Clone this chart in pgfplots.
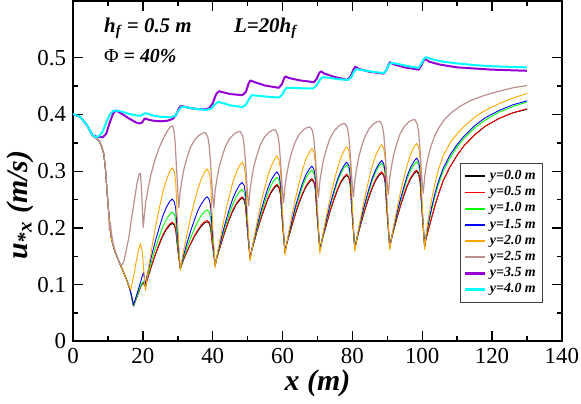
\documentclass[border=0pt]{standalone}
\usepackage{fontspec}
\setmainfont{Liberation Serif}
\usepackage{pgfplots}
\usepackage{pgfplotstable}
\pgfplotsset{compat=1.18}

\definecolor{grblack}{RGB}{0,0,0}
\definecolor{grred}{RGB}{255,0,0}
\definecolor{grgreen}{RGB}{0,255,0}
\definecolor{grblue}{RGB}{0,0,255}
\definecolor{grorange}{RGB}{255,165,0}
\definecolor{grbrown}{RGB}{188,143,143}
\definecolor{grviolet}{RGB}{148,0,211}
\definecolor{grcyan}{RGB}{0,255,255}

% y = 0.0 ... 2.0 m share one x grid
\pgfplotstableread{
x k r g b o
0 0.400 0.400 0.400 0.400 0.400
2 0.396 0.396 0.396 0.396 0.396
4 0.381 0.381 0.381 0.381 0.381
5.5 0.363 0.363 0.363 0.363 0.363
6.5 0.358 0.358 0.358 0.358 0.358
7.5 0.353 0.353 0.353 0.353 0.353
8.2 0.343 0.343 0.343 0.343 0.343
8.8 0.330 0.330 0.330 0.330 0.330
9.3 0.302 0.302 0.302 0.302 0.302
9.8 0.258 0.258 0.258 0.258 0.258
10.3 0.220 0.220 0.220 0.220 0.220
11 0.180 0.180 0.180 0.180 0.180
12 0.158 0.158 0.158 0.158 0.158
13 0.143 0.143 0.143 0.143 0.143
14 0.128 0.128 0.128 0.128 0.128
15 0.114 0.114 0.114 0.114 0.114
16 0.097 0.097 0.097 0.097 0.097
16.5 0.087 0.087 0.087 0.087 0.091
17.3 0.062 0.063 0.063 0.065 0.113
18 0.074 0.074 0.075 0.078 0.138
18.7 0.085 0.086 0.087 0.092 0.160
19.3 0.095 0.096 0.097 0.104 0.172
19.8 0.101 0.102 0.103 0.115 0.160
20.2 0.103 0.104 0.106 0.122 0.128
20.5 0.099 0.100 0.101 0.108 0.103
20.8 0.096 0.097 0.098 0.100 0.090
21.1 0.106 0.107 0.110 0.114 0.109
21.7 0.118 0.119 0.124 0.130 0.133
22.7 0.137 0.138 0.146 0.156 0.170
23.7 0.155 0.156 0.167 0.180 0.205
24.7 0.171 0.173 0.185 0.201 0.235
25.7 0.186 0.188 0.202 0.221 0.263
26.7 0.197 0.199 0.215 0.236 0.284
27.7 0.205 0.207 0.224 0.247 0.300
28.4 0.208 0.210 0.228 0.251 0.306
29.0 0.205 0.207 0.224 0.246 0.299
29.4 0.197 0.199 0.214 0.234 0.281
29.8 0.173 0.174 0.184 0.197 0.226
30.2 0.152 0.153 0.158 0.165 0.179
30.5 0.138 0.138 0.140 0.143 0.147
30.7 0.128 0.128 0.128 0.128 0.125
31.1 0.135 0.135 0.137 0.139 0.141
31.7 0.145 0.146 0.149 0.153 0.161
32.7 0.159 0.160 0.167 0.175 0.191
33.7 0.172 0.173 0.183 0.195 0.220
34.7 0.184 0.186 0.198 0.213 0.245
35.7 0.194 0.196 0.211 0.230 0.268
36.7 0.203 0.205 0.222 0.242 0.286
37.7 0.209 0.211 0.229 0.251 0.299
38.4 0.211 0.213 0.232 0.255 0.304
39.0 0.208 0.210 0.228 0.250 0.297
39.4 0.200 0.202 0.218 0.238 0.280
39.8 0.177 0.178 0.189 0.202 0.227
40.2 0.157 0.158 0.163 0.170 0.182
40.5 0.143 0.143 0.146 0.149 0.151
40.7 0.134 0.134 0.134 0.134 0.130
41.1 0.145 0.145 0.146 0.147 0.147
41.7 0.158 0.159 0.161 0.163 0.167
42.7 0.178 0.179 0.184 0.188 0.199
43.7 0.197 0.198 0.205 0.211 0.229
44.7 0.214 0.216 0.224 0.232 0.255
45.7 0.229 0.231 0.241 0.251 0.279
46.7 0.241 0.243 0.255 0.265 0.297
47.7 0.249 0.251 0.264 0.276 0.310
48.4 0.253 0.255 0.268 0.280 0.316
49.0 0.249 0.251 0.263 0.275 0.309
49.4 0.238 0.240 0.251 0.261 0.292
49.8 0.206 0.207 0.214 0.221 0.239
50.2 0.178 0.179 0.183 0.186 0.194
50.5 0.159 0.159 0.161 0.162 0.162
50.7 0.146 0.146 0.146 0.146 0.141
51.1 0.158 0.158 0.159 0.160 0.158
51.7 0.172 0.173 0.175 0.177 0.178
52.7 0.194 0.195 0.199 0.203 0.210
53.7 0.214 0.215 0.222 0.227 0.240
54.7 0.232 0.234 0.242 0.249 0.266
55.7 0.249 0.251 0.260 0.268 0.290
56.7 0.262 0.264 0.275 0.284 0.308
57.7 0.271 0.273 0.285 0.294 0.321
58.4 0.275 0.277 0.289 0.299 0.327
59.0 0.270 0.272 0.284 0.293 0.320
59.4 0.259 0.261 0.271 0.279 0.303
59.8 0.223 0.224 0.231 0.237 0.250
60.2 0.192 0.193 0.197 0.200 0.205
60.5 0.171 0.171 0.173 0.174 0.173
60.7 0.157 0.157 0.157 0.157 0.152
61.1 0.169 0.169 0.170 0.171 0.169
61.7 0.183 0.184 0.186 0.187 0.190
62.7 0.204 0.205 0.211 0.213 0.222
63.7 0.225 0.226 0.234 0.238 0.252
64.7 0.243 0.245 0.254 0.259 0.278
65.7 0.259 0.261 0.273 0.279 0.302
66.7 0.272 0.274 0.288 0.294 0.321
67.7 0.281 0.283 0.298 0.304 0.334
68.4 0.285 0.287 0.302 0.309 0.340
69.0 0.280 0.282 0.296 0.303 0.333
69.4 0.268 0.270 0.282 0.288 0.314
69.8 0.230 0.231 0.240 0.243 0.259
70.2 0.198 0.199 0.203 0.205 0.211
70.5 0.175 0.175 0.177 0.178 0.177
70.7 0.160 0.160 0.160 0.160 0.155
71.1 0.172 0.172 0.174 0.174 0.172
71.7 0.187 0.188 0.190 0.191 0.193
72.7 0.209 0.210 0.216 0.218 0.225
73.7 0.231 0.232 0.240 0.243 0.255
74.7 0.249 0.251 0.261 0.265 0.281
75.7 0.266 0.268 0.281 0.285 0.305
76.7 0.280 0.282 0.296 0.300 0.324
77.7 0.289 0.291 0.307 0.311 0.337
78.4 0.293 0.295 0.311 0.316 0.343
79.0 0.288 0.290 0.305 0.310 0.336
79.4 0.275 0.277 0.290 0.295 0.317
79.8 0.236 0.237 0.246 0.249 0.262
80.2 0.202 0.203 0.207 0.209 0.214
80.5 0.179 0.179 0.181 0.181 0.180
80.7 0.163 0.163 0.163 0.163 0.158
81.1 0.175 0.175 0.177 0.177 0.175
81.7 0.190 0.191 0.193 0.194 0.196
82.7 0.213 0.214 0.219 0.221 0.228
83.7 0.234 0.235 0.243 0.246 0.258
84.7 0.253 0.255 0.264 0.268 0.285
85.7 0.270 0.272 0.284 0.288 0.309
86.7 0.284 0.286 0.299 0.303 0.328
87.7 0.293 0.295 0.310 0.314 0.341
88.4 0.297 0.299 0.314 0.319 0.347
89.0 0.292 0.294 0.308 0.313 0.340
89.4 0.279 0.281 0.293 0.298 0.321
89.8 0.239 0.240 0.249 0.252 0.265
90.2 0.205 0.206 0.210 0.212 0.217
90.5 0.182 0.182 0.184 0.184 0.183
90.7 0.166 0.166 0.166 0.166 0.161
91.1 0.178 0.178 0.180 0.180 0.178
91.7 0.193 0.194 0.196 0.197 0.199
92.7 0.216 0.217 0.222 0.224 0.231
93.7 0.237 0.238 0.246 0.249 0.261
94.7 0.256 0.258 0.267 0.271 0.287
95.7 0.273 0.275 0.287 0.292 0.311
96.7 0.287 0.289 0.302 0.307 0.330
97.7 0.296 0.298 0.312 0.318 0.343
98.4 0.300 0.302 0.317 0.323 0.349
99.0 0.295 0.297 0.311 0.317 0.342
99.4 0.281 0.283 0.296 0.301 0.323
99.8 0.242 0.243 0.251 0.254 0.267
100.2 0.207 0.208 0.212 0.214 0.218
100.5 0.183 0.183 0.185 0.186 0.184
100.7 0.167 0.167 0.167 0.167 0.162
101 0.178 0.178 0.180 0.182 0.182
101.7 0.195 0.195 0.203 0.206 0.214
102.7 0.218 0.218 0.232 0.236 0.250
103.7 0.240 0.240 0.257 0.262 0.280
104.7 0.260 0.260 0.278 0.283 0.304
106 0.283 0.283 0.300 0.305 0.327
108 0.308 0.308 0.324 0.329 0.350
110 0.328 0.328 0.343 0.347 0.366
112 0.345 0.345 0.358 0.362 0.379
115 0.364 0.364 0.376 0.380 0.395
118 0.379 0.379 0.390 0.394 0.407
122 0.393 0.393 0.404 0.407 0.419
126 0.403 0.403 0.414 0.417 0.429
130 0.409 0.410 0.422 0.424 0.437
}\lowtab

% y = 2.5 m
\pgfplotstableread{
x y
0 0.400
2 0.396
4 0.381
5.5 0.363
6.5 0.358
7.5 0.354
8.2 0.345
8.8 0.332
9.3 0.303
9.8 0.262
10.1 0.235
10.4 0.195
10.7 0.208
11.0 0.190
11.5 0.172
12.3 0.155
13.2 0.140
13.9 0.134
14.5 0.140
15.2 0.160
16.0 0.184
16.7 0.215
17.4 0.242
18.3 0.278
18.9 0.295
19.3 0.296
19.6 0.270
19.9 0.225
20.1 0.201
20.4 0.222
20.8 0.245
21.5 0.270
22.3 0.294
23.3 0.317
24.5 0.339
25.7 0.356
27.0 0.371
28.0 0.379
28.5 0.380
28.9 0.371
29.2 0.354
29.5 0.320
29.9 0.276
30.15 0.248
30.3 0.236
30.7 0.265
31.2 0.285
31.8 0.305
32.6 0.323
33.6 0.342
34.8 0.355
36.0 0.363
37.0 0.367
37.9 0.368
38.6 0.360
39.0 0.344
39.4 0.313
39.8 0.273
40.1 0.247
40.3 0.236
40.7 0.266
41.2 0.286
41.8 0.306
42.6 0.324
43.6 0.343
44.8 0.357
46.0 0.365
47.0 0.369
47.9 0.370
48.6 0.362
49.0 0.346
49.4 0.315
49.8 0.276
50.1 0.250
50.3 0.239
50.7 0.268
51.2 0.289
51.8 0.309
52.6 0.327
53.6 0.346
54.8 0.360
56.0 0.368
57.0 0.372
57.9 0.373
58.6 0.365
59.0 0.350
59.4 0.319
59.8 0.281
60.1 0.255
60.3 0.245
60.7 0.274
61.2 0.294
61.8 0.314
62.6 0.333
63.6 0.351
64.8 0.365
66.0 0.373
67.0 0.377
67.9 0.378
68.6 0.371
69.0 0.356
69.4 0.326
69.8 0.289
70.1 0.264
70.3 0.254
70.7 0.283
71.2 0.302
71.8 0.322
72.6 0.340
73.6 0.358
74.8 0.371
76.0 0.379
77.0 0.383
77.9 0.384
78.6 0.376
79.0 0.361
79.4 0.330
79.8 0.291
80.1 0.265
80.3 0.255
80.7 0.284
81.2 0.304
81.8 0.324
82.6 0.343
83.6 0.361
84.8 0.375
86.0 0.383
87.0 0.387
87.9 0.388
88.6 0.380
89.0 0.365
89.4 0.334
89.8 0.295
90.1 0.269
90.3 0.259
90.7 0.288
91.2 0.308
91.8 0.328
92.6 0.346
93.6 0.365
94.8 0.378
96.0 0.386
97.0 0.390
97.9 0.391
98.6 0.383
99.0 0.368
99.4 0.336
99.8 0.297
100.1 0.271
100.3 0.261
100.7 0.290
101.2 0.310
101.8 0.328
102.6 0.346
103.6 0.362
104.8 0.377
106.5 0.392
108.5 0.404
111 0.415
114 0.425
118 0.434
122 0.441
126 0.447
130 0.451
}\browntab

% y = 3.5 m
\pgfplotstableread{
x y
0 0.400
2 0.396
4 0.381
5.5 0.364
7 0.360
8.5 0.360
9.5 0.366
10.5 0.386
11.5 0.402
12.3 0.407
14 0.401
16 0.393
18 0.386
19 0.384
19.8 0.386
20.5 0.393
21.5 0.391
23 0.389
25 0.388
27 0.389
28.5 0.392
29.5 0.399
30.4 0.412
31 0.415
33 0.412
35 0.410
37.5 0.409
39 0.411
40 0.420
41 0.436
41.8 0.441
43 0.439
45 0.436
48.5 0.434
49.5 0.440
50.3 0.455
50.8 0.460
52 0.457
55 0.451
58.9 0.447
59.8 0.453
60.4 0.463
60.8 0.467
62 0.464
65 0.460
69 0.457
69.8 0.463
70.5 0.473
71 0.476
72 0.472
75 0.466
78.5 0.461
79.5 0.467
80.3 0.479
80.8 0.484
82 0.480
85 0.475
89 0.472
89.8 0.479
90.4 0.488
90.8 0.492
92 0.488
95 0.483
99 0.479
99.8 0.487
100.4 0.495
100.8 0.498
102 0.493
105 0.488
110 0.483
115 0.481
120 0.479
130 0.477
}\purtab

% y = 4.0 m
\pgfplotstableread{
x y
0 0.401
2 0.396
4 0.381
5.5 0.364
6.5 0.360
7.5 0.362
8.5 0.370
9.5 0.386
10.5 0.400
11.5 0.406
12.5 0.407
14 0.405
16 0.401
18.5 0.398
19.5 0.398
20.5 0.402
21 0.402
23 0.398
25 0.396
28 0.395
29.3 0.398
30.3 0.408
31.2 0.414
33 0.412
35 0.410
38 0.408
39.5 0.410
40.5 0.417
41.5 0.422
43 0.420
45 0.416
48.5 0.413
49.5 0.417
50.5 0.428
51.2 0.434
53 0.433
56 0.431
59 0.430
59.8 0.434
60.6 0.443
61.2 0.447
63 0.447
66 0.446
68.8 0.446
69.8 0.452
70.8 0.462
71.5 0.466
73 0.465
76 0.462
78.8 0.461
79.7 0.466
80.5 0.476
81.2 0.480
83 0.478
86 0.475
89 0.473
89.8 0.479
90.5 0.488
91.2 0.491
93 0.489
96 0.485
99 0.482
99.8 0.490
100.5 0.498
101.2 0.501
103 0.497
106 0.493
110 0.490
115 0.487
120 0.485
130 0.483
}\cyantab

\begin{document}
\begin{tikzpicture}
\begin{axis}[
    scale only axis,
    width=245.5pt, height=171pt,
    xmin=0, xmax=140, ymin=0, ymax=0.6,
    xtick={0,20,...,140},
    ytick={0,0.1,0.2,0.3,0.4,0.5},
    minor x tick num=1,
    minor y tick num=1,
    tick align=inside,
    major tick length=5pt,
    minor tick length=2.5pt,
    every tick/.style={black, line width=0.7pt},
    axis line style={line width=1pt},
    /pgf/number format/assume math mode=true,
    yticklabel style={/pgf/number format/fixed, /pgf/number format/precision=1},
    xticklabel style={inner xsep=1pt},
    ticklabel style={font=\fontsize{11.5}{13}\selectfont},
    xlabel={x (m)},
    ylabel={u\textsubscript{*x} (m/s)},
    label style={font=\fontsize{15}{17}\selectfont\bfseries\itshape},
    xlabel style={yshift=4pt},
    ylabel style={at={(ticklabel cs:0.40)}, yshift=-5pt},
    legend style={at={(0.962,0.525)}, anchor=north east,
        draw=black!75, line width=0.5pt,
        font=\fontsize{7}{8}\selectfont\bfseries\itshape,
        inner sep=1.5pt, row sep=-2pt},
    legend cell align=left,
    legend image code/.code={\draw[#1] (0pt,0pt) -- (10pt,0pt);},
    legend image post style={line width=0.9pt},
    every axis plot/.append style={line join=round},
]
\addplot[grblack, line width=0.45pt] table[x=x, y=k] {\lowtab};
\addlegendentry{y=0.0 m}
\addplot[grred, line width=0.45pt] table[x=x, y=r] {\lowtab};
\addlegendentry{y=0.5 m}
\addplot[grgreen, line width=0.45pt] table[x=x, y=g] {\lowtab};
\addlegendentry{y=1.0 m}
\addplot[grblue, line width=0.45pt] table[x=x, y=b] {\lowtab};
\addlegendentry{y=1.5 m}
\addplot[grorange, line width=0.45pt] table[x=x, y=o] {\lowtab};
\addlegendentry{y=2.0 m}
\addplot[grbrown, line width=0.6pt] table[x=x, y=y] {\browntab};
\addlegendentry{y=2.5 m}
\addplot[grviolet, line width=1pt, legend image post style={line width=1.4pt}] table[x=x, y=y] {\purtab};
\addlegendentry{y=3.5 m}
\addplot[grcyan, line width=1pt, legend image post style={line width=1.4pt}] table[x=x, y=y] {\cyantab};
\addlegendentry{y=4.0 m}

\node[anchor=base west, font=\fontsize{10.5}{12}\selectfont\bfseries\itshape]
    at (axis cs:6.9,0.545) {h\textsubscript{f} = 0.5 m};
\node[anchor=base west, font=\fontsize{10.5}{12}\selectfont\bfseries\itshape]
    at (axis cs:44.1,0.545) {L=20h\textsubscript{f}};
\node[anchor=base west, font=\fontsize{10}{12}\selectfont\bfseries\itshape]
    at (axis cs:6.9,0.491) {{\mdseries\upshape Φ} = 40\%};
\end{axis}
\end{tikzpicture}
\end{document}
